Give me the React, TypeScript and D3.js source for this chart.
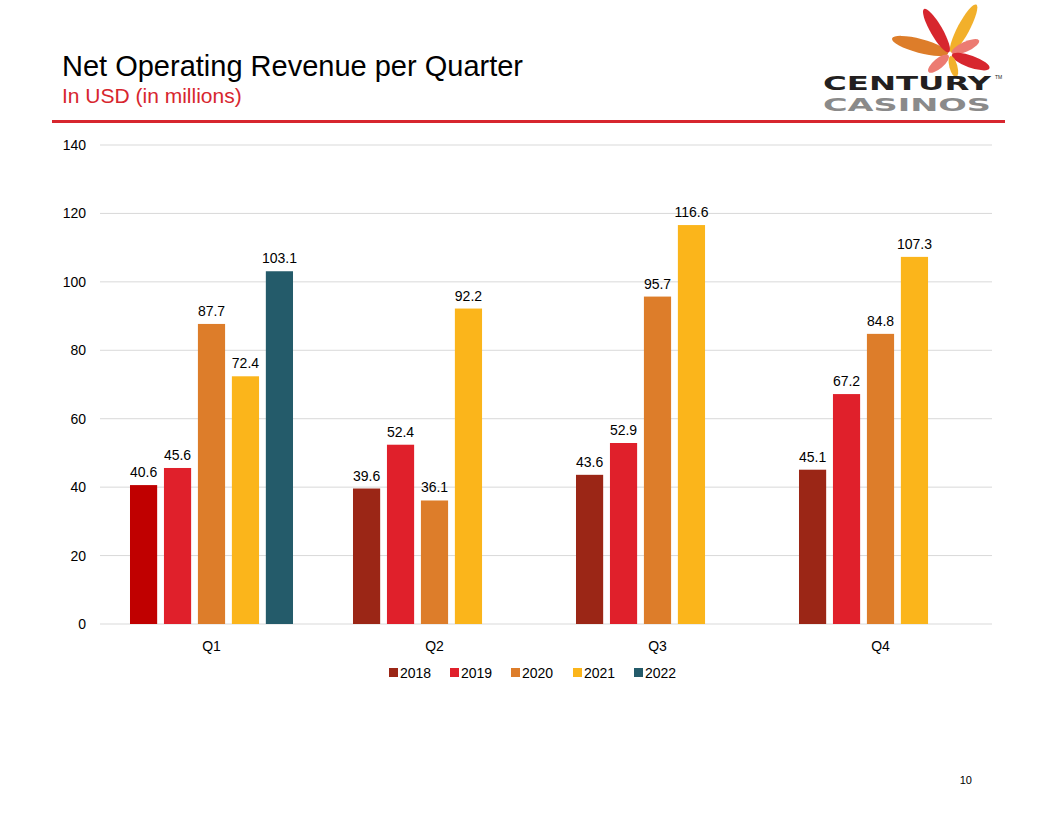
import { useRef, useEffect } from 'react';
import * as d3 from 'd3';

const quarters = ['Q1', 'Q2', 'Q3', 'Q4'];
const years = ['2018', '2019', '2020', '2021', '2022'];
const colors = ['#9B2616', '#E0202B', '#DD7D2A', '#FBB51B', '#245B6A'];
// Q1 2018 bar is drawn in a brighter red in the original
const q1Override = '#C00000';

const values2018 = [40.6, 39.6, 43.6, 45.1];
const values2019 = [45.6, 52.4, 52.9, 67.2];
const values2020 = [87.7, 36.1, 95.7, 84.8];
const values2021 = [72.4, 92.2, 116.6, 107.3];
const values2022 = [103.1, null, null, null];

const yTicks = [0, 20, 40, 60, 80, 100, 120, 140];

const FONT = 'Liberation Sans, Arial, sans-serif';

export default function App() {
  const svgRef = useRef<SVGSVGElement>(null);

  useEffect(() => {
    if (!svgRef.current) return;
    const svg = d3.select(svgRef.current);
    svg.selectAll('*').remove();

    const width = 1056;
    const height = 816;

    svg.append('rect').attr('width', width).attr('height', height).attr('fill', '#fff');

    // Header
    svg.append('text')
      .attr('x', 62).attr('y', 76)
      .attr('font-family', FONT).attr('font-size', 29)
      .attr('fill', '#000')
      .text('Net Operating Revenue per Quarter');
    svg.append('text')
      .attr('x', 62).attr('y', 103)
      .attr('font-family', FONT).attr('font-size', 21)
      .attr('fill', '#D7262E')
      .text('In USD (in millions)');
    svg.append('rect')
      .attr('x', 52).attr('y', 120).attr('width', 953).attr('height', 3)
      .attr('fill', '#D7262E');

    // Logo
    const logo = svg.append('g');
    const cx = 950, cy = 54;
    const petals = [
      { a: 195, len: 58, w: 7, c: '#DD7D2A' },
      { a: 240, len: 50, w: 6, c: '#D7262E' },
      { a: 298, len: 54, w: 6, c: '#F2B02B' },
      { a: 335, len: 30, w: 5, c: '#EC7B72' },
      { a: 20, len: 40, w: 6, c: '#D7262E' },
      { a: 140, len: 26, w: 5, c: '#EC7B72' },
      { a: 75, len: 22, w: 4, c: '#F2B02B' },
    ];
    petals.forEach(p => {
      logo.append('ellipse')
        .attr('cx', 0).attr('cy', 0)
        .attr('rx', p.len / 2).attr('ry', p.w)
        .attr('fill', p.c)
        .attr('transform', `translate(${cx},${cy}) rotate(${p.a}) translate(${p.len / 2 + 2},0)`);
    });
    logo.append('text')
      .attr('x', 907).attr('y', 90)
      .attr('text-anchor', 'middle')
      .attr('font-family', 'DejaVu Sans, sans-serif').attr('font-weight', 'bold')
      .attr('font-size', 20)
      .attr('textLength', 168).attr('lengthAdjust', 'spacingAndGlyphs')
      .attr('fill', '#231F20')
      .text('CENTURY');
    logo.append('text')
      .attr('x', 995).attr('y', 79)
      .attr('font-family', FONT).attr('font-size', 5)
      .attr('fill', '#231F20')
      .text('TM');
    logo.append('text')
      .attr('x', 907).attr('y', 111)
      .attr('text-anchor', 'middle')
      .attr('font-family', 'DejaVu Sans, sans-serif').attr('font-weight', 'bold')
      .attr('font-size', 17)
      .attr('textLength', 168).attr('lengthAdjust', 'spacingAndGlyphs')
      .attr('fill', '#8A8A8A')
      .text('CASINOS');

    // Chart
    const margin = { top: 145, left: 100, right: 64, bottom: 192 };
    const innerWidth = width - margin.left - margin.right;
    const innerHeight = height - margin.top - margin.bottom;

    const g = svg.append('g').attr('transform', `translate(${margin.left},${margin.top})`);

    const x0 = d3.scaleBand().domain(quarters).range([0, innerWidth]).paddingInner(0.269).paddingOuter(0.1345);
    const x1 = d3.scaleBand().domain(years).range([0, x0.bandwidth()]).paddingInner(0.2);
    const y = d3.scaleLinear().domain([0, 140]).range([innerHeight, 0]);

    // Grid
    g.append('g')
      .selectAll('line')
      .data(yTicks)
      .join('line')
      .attr('x1', 0).attr('x2', innerWidth)
      .attr('y1', d => y(d)).attr('y2', d => y(d))
      .attr('stroke', '#D9D9D9').attr('stroke-width', 1);

    // Y labels
    g.append('g')
      .selectAll('text')
      .data(yTicks)
      .join('text')
      .attr('x', -14).attr('y', d => y(d) + 5)
      .attr('text-anchor', 'end')
      .attr('font-family', FONT).attr('font-size', 14)
      .attr('fill', '#000')
      .text(d => d);

    // X labels
    g.append('g')
      .selectAll('text')
      .data(quarters)
      .join('text')
      .attr('x', d => (x0(d) ?? 0) + x0.bandwidth() / 2)
      .attr('y', innerHeight + 27)
      .attr('text-anchor', 'middle')
      .attr('font-family', FONT).attr('font-size', 14)
      .attr('fill', '#000')
      .text(d => d);

    const series = [values2018, values2019, values2020, values2021, values2022];
    const bars: { q: string; yr: string; v: number; c: string }[] = [];
    quarters.forEach((q, qi) => {
      series.forEach((s, si) => {
        const v = s[qi];
        if (v == null) return;
        const c = qi === 0 && si === 0 ? q1Override : colors[si];
        bars.push({ q, yr: years[si], v, c });
      });
    });

    g.append('g')
      .selectAll('rect')
      .data(bars)
      .join('rect')
      .attr('x', d => (x0(d.q) ?? 0) + (x1(d.yr) ?? 0))
      .attr('y', d => y(d.v))
      .attr('width', x1.bandwidth())
      .attr('height', d => innerHeight - y(d.v))
      .attr('fill', d => d.c);

    g.append('g')
      .selectAll('text')
      .data(bars)
      .join('text')
      .attr('x', d => (x0(d.q) ?? 0) + (x1(d.yr) ?? 0) + x1.bandwidth() / 2)
      .attr('y', d => y(d.v) - 8)
      .attr('text-anchor', 'middle')
      .attr('font-family', FONT).attr('font-size', 14)
      .attr('fill', '#000')
      .text(d => d.v.toFixed(1));

    // Legend
    const legendX = [389, 450, 511, 573, 634];
    const legend = svg.append('g');
    years.forEach((yr, i) => {
      legend.append('rect')
        .attr('x', legendX[i]).attr('y', 668)
        .attr('width', 9).attr('height', 9)
        .attr('fill', colors[i]);
      legend.append('text')
        .attr('x', legendX[i] + 11).attr('y', 678)
        .attr('font-family', FONT).attr('font-size', 14)
        .attr('fill', '#000')
        .text(yr);
    });

    // Page number
    svg.append('text')
      .attr('x', 972).attr('y', 784)
      .attr('text-anchor', 'end')
      .attr('font-family', FONT).attr('font-size', 11)
      .attr('fill', '#000')
      .text('10');
  }, []);

  return (
    <svg
      ref={svgRef}
      width={1056}
      height={816}
      style={{ position: 'absolute', left: 0, top: 0 }}
    />
  );
}
